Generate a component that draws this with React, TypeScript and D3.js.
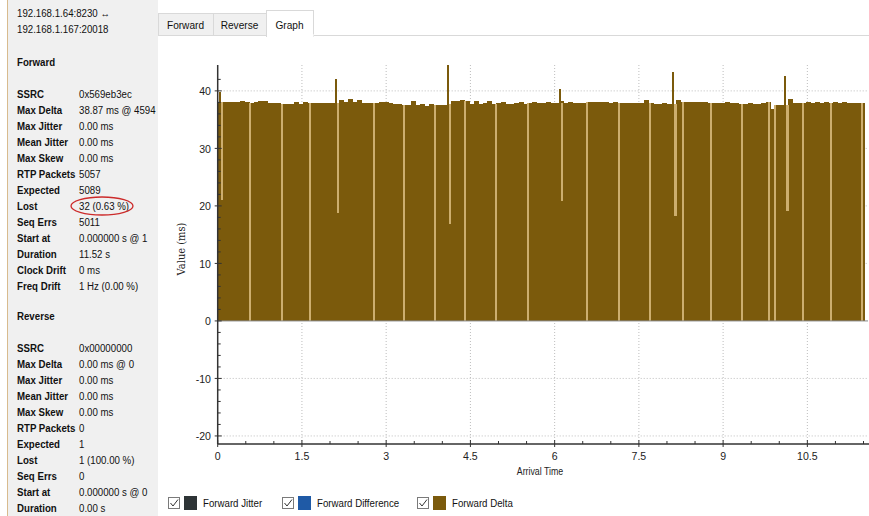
import React from 'react'
import * as d3 from 'd3'

const W = 869
const H = 516

// left panel: stream summary
const streamIds = ['192.168.1.64:8230 \u2194', '192.168.1.167:20018']
const statLabels = [
  'SSRC', 'Max Delta', 'Max Jitter', 'Mean Jitter', 'Max Skew', 'RTP Packets',
  'Expected', 'Lost', 'Seq Errs', 'Start at', 'Duration', 'Clock Drift', 'Freq Drift'
]
const fwdValues = [
  '0x569eb3ec', '38.87 ms @ 4594', '0.00 ms', '0.00 ms', '0.00 ms', '5057',
  '5089', '32 (0.63 %)', '5011', '0.000000 s @ 1', '11.52 s', '0 ms', '1 Hz (0.00 %)'
]
const revValues = [
  '0x00000000', '0.00 ms @ 0', '0.00 ms', '0.00 ms', '0.00 ms', '0',
  '1', '1 (100.00 %)', '0', '0.000000 s @ 0', '0.00 s'
]
const tabs = ['Forward', 'Reverse', 'Graph']

// graph: forward delta (ms), one value per 0.08 s of arrival time
const deltaStep = 0.08
const forwardDelta = [
  38.1, 38.1, 38.0, 38.1, 38.1, 38.3, 38.0, 37.9, 38.0, 38.3,
  38.3, 37.9, 37.95, 37.9, 37.8, 37.8, 37.75, 38.1, 37.8, 38.1,
  37.9, 37.85, 37.9, 37.9, 37.85, 37.9, 37.9, 38.5, 38.1, 38.6,
  38.1, 38.4, 37.95, 37.9, 37.95, 37.85, 38.05, 38.0, 37.85, 37.8,
  37.7, 37.6, 37.6, 38.3, 37.5, 37.8, 37.45, 37.7, 37.5, 37.55,
  37.6, 37.8, 38.25, 38.2, 38.5, 38.2, 37.8, 38.25, 37.8, 37.85,
  38.2, 37.8, 37.85, 38.1, 37.8, 37.8, 37.85, 38.0, 37.8, 37.85,
  38.15, 37.9, 37.9, 38.1, 37.9, 37.85, 38.2, 37.95, 38.1, 37.9,
  37.95, 37.9, 38.0, 38.05, 38.0, 38.1, 38.0, 37.95, 38.0, 37.9,
  37.9, 37.85, 37.9, 37.9, 37.95, 38.35, 37.9, 37.8, 37.8, 37.85,
  37.8, 37.8, 38.4, 38.0, 38.1, 38.0, 38.15, 38.0, 38.1, 37.95,
  37.9, 37.95, 37.9, 38.05, 37.9, 37.9, 37.8, 37.8, 37.85, 37.8,
  37.8, 37.85, 38.0, 36.9, 37.6, 37.6, 37.6, 38.6, 37.9, 37.95,
  37.9, 38.0, 37.95, 38.0, 37.9, 38.0, 37.95, 38.15, 37.95, 38.0,
  37.9, 37.95, 37.9, 37.85
]
// arrival times (s) where a packet is missing
const lostAt = [
  0.575, 1.14, 1.64, 2.78, 3.32, 3.875, 4.41, 4.95, 5.52, 6.58,
  7.14, 7.70, 8.28, 8.78, 9.34, 9.82, 9.93, 10.42, 10.92, 11.47
]
// late packet followed by an early one
const spikeAt = [0.02, 2.085, 4.08, 6.07, 8.09, 10.09]
const spikePeak = [39.8, 42.1, 44.5, 40.4, 43.3, 42.6]
const spikeLow = [21.0, 18.8, 16.8, 20.8, 18.2, 19.1]

const xTicks = [0, 1.5, 3, 4.5, 6, 7.5, 9, 10.5]
const yTicks = [-20, -10, 0, 10, 20, 30, 40]

const seriesNames = ['Forward Jitter', 'Forward Difference', 'Forward Delta']
const seriesColors = ['#2e3436', '#1f5aa6', '#7b5a0c']

const DARK = '#7b5a0c'
const LIGHT = '#cdae6e'

// narrow-ish text, the screenshot font is condensed
function T({ x, y, children, anchor = 'start', bold = false, size = 11, fill = '#111', sx = 0.88 }) {
  return (
    <text
      transform={`translate(${x},${y}) scale(${sx},1)`}
      textAnchor={anchor}
      dominantBaseline="central"
      fontSize={size}
      fontWeight={bold ? 'bold' : 'normal'}
      fill={fill}
    >{children}</text>
  )
}

function Stats({ title, top, values }) {
  return (
    <g>
      <T x={17} y={top} bold>{title}</T>
      {values.map((v, i) => (
        <g key={i}>
          <T x={17} y={top + 32 + i * 16} bold>{statLabels[i]}</T>
          <T x={79} y={top + 32 + i * 16}>{v}</T>
        </g>
      ))}
    </g>
  )
}

export default function App() {
  const x = d3.scaleLinear().domain([0, 11.58]).range([217.7, 868])
  const y = d3.scaleLinear().domain([-21.4, 44.5]).range([444, 65])
  const topAt = (t: number) =>
    forwardDelta[Math.min(forwardDelta.length - 1, Math.floor(t / deltaStep))]

  const xMinor = d3.range(0.5, 11.58, 0.5).filter(v => Math.abs(v / 1.5 - Math.round(v / 1.5)) > 0.01)
  const yMinor = d3.range(-20, 44, 2).filter(v => v % 10 !== 0)

  const tabX = [158, 213, 266, 313]

  return (
    <svg width={W} height={H} style={{ position: 'absolute', left: 0, top: 0 }}
      fontFamily="'Liberation Sans', Arial, sans-serif">
      <rect width={W} height={H} fill="#fff" />

      {/* left stats panel */}
      <rect x={8} y={0} width={150} height={H} fill="#f0f0f0" />
      <line x1={7.5} x2={7.5} y1={0} y2={H} stroke="#d8bb8e" />
      {streamIds.map((s, i) => <T key={s} x={17} y={13 + i * 16}>{s}</T>)}
      <Stats title="Forward" top={62} values={fwdValues} />
      <Stats title="Reverse" top={316} values={revValues} />
      <ellipse cx={102} cy={62 + 32 + 7 * 16} rx={31} ry={9} fill="none" stroke="#cc2a2a" strokeWidth={1.3} />

      {/* tabs */}
      <line x1={158} x2={W} y1={35.5} y2={35.5} stroke="#d9d9d9" />
      {tabs.map((t, i) => {
        const active = i === 2
        return (
          <g key={t}>
            <rect x={tabX[i] + 0.5} y={active ? 10.5 : 13.5} width={tabX[i + 1] - tabX[i]}
              height={active ? 26 : 22} fill={active ? '#fff' : '#f0f0f0'} stroke="#d9d9d9" />
            <T x={(tabX[i] + tabX[i + 1]) / 2} y={25} anchor="middle" size={11.5}>{t}</T>
          </g>
        )
      })}
      <rect x={tabX[2] + 1} y={34} width={tabX[3] - tabX[2] - 0.5} height={3} fill="#fff" />

      {/* grid */}
      <g stroke="#bdbdbd" strokeDasharray="1,2">
        {xTicks.slice(1).map(v => <line key={v} x1={x(v)} x2={x(v)} y1={65} y2={444} />)}
        {yTicks.filter(v => v !== 0).map(v => <line key={v} x1={x(0)} x2={868} y1={y(v)} y2={y(v)} />)}
      </g>

      {/* forward delta bars */}
      <g shapeRendering="crispEdges">
        {forwardDelta.map((v, i) => (
          <rect key={i} x={x(i * deltaStep)} width={x((i + 1) * deltaStep) - x(i * deltaStep) + 0.5}
            y={y(v)} height={y(0) - y(v)} fill={DARK} />
        ))}
        {lostAt.map(t => (
          <rect key={t} x={x(t) - 1} width={2} y={y(topAt(t))} height={y(0) - y(topAt(t))} fill={LIGHT} />
        ))}
        {spikeAt.map((t, i) => (
          <g key={t}>
            <rect x={x(t)} width={2} y={y(spikePeak[i])} height={y(0) - y(spikePeak[i])} fill={DARK} />
            <rect x={x(t) + 2} width={2.5} y={y(topAt(t))} height={y(0) - y(topAt(t))} fill={LIGHT} />
            <rect x={x(t) + 2} width={2.5} y={y(spikeLow[i])} height={y(0) - y(spikeLow[i])} fill={DARK} />
          </g>
        ))}
      </g>
      <line x1={x(0)} x2={868} y1={y(0)} y2={y(0)} stroke="#8a8a8a" />

      {/* axes */}
      <g stroke="#333">
        <line x1={x(0)} x2={x(0)} y1={65} y2={444} strokeWidth={1.5} />
        <line x1={x(0)} x2={W} y1={444} y2={444} strokeWidth={1.5} />
        {yTicks.map(v => <line key={v} x1={x(0) - 3} x2={x(0) + 4} y1={y(v)} y2={y(v)} />)}
        {yMinor.map(v => <line key={v} x1={x(0)} x2={x(0) + 3} y1={y(v)} y2={y(v)} />)}
        {xTicks.map(v => <line key={v} x1={x(v)} x2={x(v)} y1={447} y2={440} />)}
        {xMinor.map(v => <line key={v} x1={x(v)} x2={x(v)} y1={444} y2={441} />)}
      </g>
      {yTicks.map(v => <T key={v} x={211} y={y(v)} anchor="end" size={11.5} sx={0.92} fill="#222">{v}</T>)}
      {xTicks.map(v => <T key={v} x={x(v)} y={456} anchor="middle" size={11.5} sx={0.92} fill="#222">{v}</T>)}
      <T x={540} y={471} anchor="middle" size={10} fill="#222">Arrival Time</T>
      <text transform="translate(181,249) rotate(-90) scale(0.9,1)" textAnchor="middle"
        dominantBaseline="central" fontSize={11} fill="#222" fontFamily="'DejaVu Serif', serif">Value (ms)</text>

      {/* legend */}
      {seriesNames.map((s, i) => {
        const lx = [168, 282, 417][i]
        return (
          <g key={s}>
            <rect x={lx + 0.5} y={497.5} width={11} height={11} fill="#fff" stroke="#7a7a7a" />
            <path d={`M${lx + 2.5},${503} L${lx + 5},${506} L${lx + 10},${499.5}`} fill="none" stroke="#333" />
            <rect x={lx + 16} y={496} width={13} height={14} fill={seriesColors[i]} />
            <T x={lx + 35} y={503}>{s}</T>
          </g>
        )
      })}
    </svg>
  )
}
